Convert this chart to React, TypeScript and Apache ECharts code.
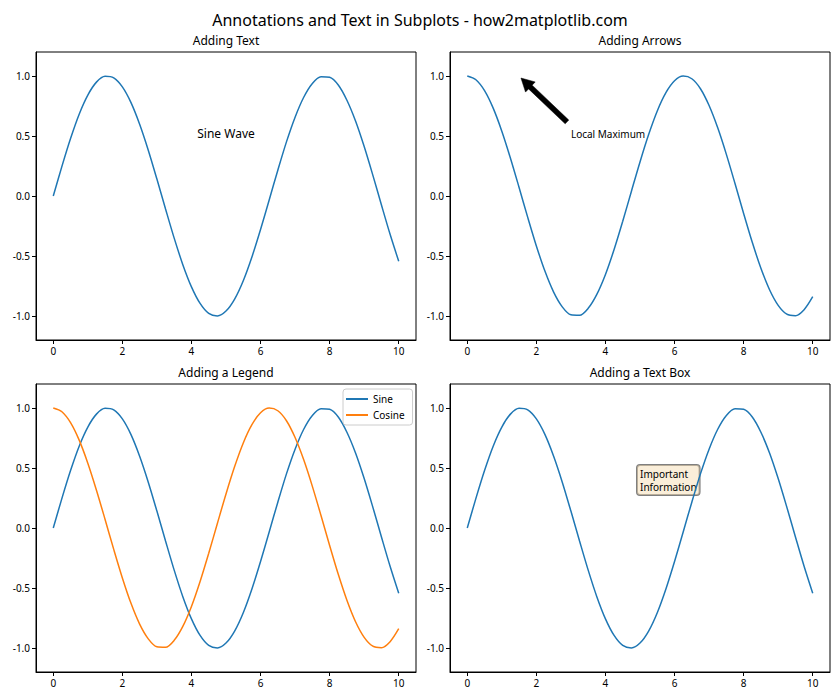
import React, { useEffect, useRef } from "react";
import * as echarts from "echarts";

const chartTitle = "Annotations and Text in Subplots - how2matplotlib.com";
const subplotTitles = ["Adding Text", "Adding Arrows", "Adding a Legend", "Adding a Text Box"];

const xValues = [
  0, 0.25, 0.5, 0.75, 1, 1.25, 1.5, 1.75, 2, 2.25, 2.5, 2.75, 3, 3.25, 3.5, 3.75, 4, 4.25, 4.5, 4.75,
  5, 5.25, 5.5, 5.75, 6, 6.25, 6.5, 6.75, 7, 7.25, 7.5, 7.75, 8, 8.25, 8.5, 8.75, 9, 9.25, 9.5, 9.75, 10,
];
const sineValues = [
  0, 0.247, 0.479, 0.682, 0.841, 0.949, 0.997, 0.984, 0.909, 0.778, 0.598, 0.382, 0.141, -0.108, -0.351,
  -0.572, -0.757, -0.895, -0.978, -0.999, -0.959, -0.859, -0.706, -0.508, -0.279, -0.033, 0.215, 0.451,
  0.657, 0.823, 0.938, 0.994, 0.989, 0.925, 0.798, 0.625, 0.412, 0.174, -0.075, -0.319, -0.544,
];
const cosineValues = [
  1, 0.969, 0.878, 0.732, 0.54, 0.315, 0.071, -0.178, -0.416, -0.628, -0.801, -0.924, -0.99, -0.994,
  -0.936, -0.82, -0.654, -0.446, -0.211, 0.038, 0.284, 0.512, 0.709, 0.861, 0.96, 0.999, 0.977, 0.894,
  0.754, 0.568, 0.347, 0.104, -0.146, -0.386, -0.602, -0.781, -0.911, -0.985, -0.997, -0.947, -0.839,
];
const xTicks = [0, 2, 4, 6, 8, 10];
const yTicks = [-1, -0.5, 0, 0.5, 1];

const textLabel = { text: "Sine Wave", at: [5, 0.5] };
const arrowLabel = { text: "Local Maximum", at: [3, 0.5] };
const arrowTail = [2.886, 0.617];
const arrowTip = [1.554, 0.983];
const boxLabel = { text: "Important\nInformation", at: [5, 0.5] };

const FONT = "'Noto Sans', sans-serif";
const BLUE = "#1f77b4";
const ORANGE = "#ff7f0e";

export default function App() {
  const ref = useRef<HTMLDivElement>(null);
  useEffect(() => {
    if (!ref.current) return;
    const chart = echarts.init(ref.current, undefined, { renderer: "svg" });
    const grids = [
      { left: 36, top: 52 },
      { left: 450, top: 52 },
      { left: 36, top: 384 },
      { left: 450, top: 384 },
    ].map((g) => ({
      ...g,
      width: 380,
      height: 288,
      show: true,
      borderColor: "#000",
      borderWidth: 1,
      backgroundColor: "transparent",
      containLabel: false,
    }));
    const xAxes = grids.map((_, i) => ({
      type: "value",
      gridIndex: i,
      min: -0.5,
      max: 10.5,
      splitLine: { show: false },
      axisLine: { show: true, onZero: false, lineStyle: { color: "#000", width: 1 } },
      axisTick: { show: true, inside: false, length: 4, customValues: xTicks, lineStyle: { color: "#000" } },
      axisLabel: {
        customValues: xTicks,
        color: "#000",
        fontSize: 10,
        fontFamily: FONT,
        margin: 6,
        formatter: (v: number) => String(v),
      },
    }));
    const yAxes = grids.map((_, i) => ({
      type: "value",
      gridIndex: i,
      min: -1.2,
      max: 1.2,
      splitLine: { show: false },
      axisLine: { show: true, onZero: false, lineStyle: { color: "#000", width: 1 } },
      axisTick: { show: true, inside: false, length: 4, customValues: yTicks, lineStyle: { color: "#000" } },
      axisLabel: {
        customValues: yTicks,
        color: "#000",
        fontSize: 10,
        fontFamily: FONT,
        margin: 6,
        formatter: (v: number) => v.toFixed(1),
      },
    }));
    const toData = (vals: number[]) => xValues.map((x, i) => [x, vals[i]]);
    const lineSeries = (name: string, idx: number, vals: number[], color: string) => ({
      name,
      type: "line",
      xAxisIndex: idx,
      yAxisIndex: idx,
      data: toData(vals),
      showSymbol: false,
      symbol: "none",
      smooth: 0.3,
      lineStyle: { color, width: 1.5 },
      itemStyle: { color },
      clip: true,
    });
    const titleCenters = [226, 640, 226, 640];
    const titleTops = [34, 34, 366, 366];
    chart.setOption({
      animation: false,
      backgroundColor: "#fff",
      textStyle: { fontFamily: FONT },
      title: [
        {
          text: chartTitle,
          left: 420,
          top: 12,
          textAlign: "center",
          padding: 0,
          textStyle: { fontSize: 16, fontWeight: "normal", color: "#000", fontFamily: FONT },
        },
        ...subplotTitles.map((t, i) => ({
          text: t,
          left: titleCenters[i],
          top: titleTops[i],
          textAlign: "center",
          padding: 0,
          textStyle: { fontSize: 12, fontWeight: "normal", color: "#000", fontFamily: FONT },
        })),
      ],
      legend: {
        data: ["Sine", "Cosine"],
        orient: "vertical",
        left: 343,
        top: 389,
        icon: "rect",
        itemWidth: 22,
        itemHeight: 2,
        itemGap: 6,
        padding: [5, 8, 5, 3],
        borderColor: "#ccc",
        borderWidth: 1,
        borderRadius: 3,
        backgroundColor: "rgba(255,255,255,0.8)",
        textStyle: { fontSize: 10, color: "#000", fontFamily: FONT },
      },
      grid: grids,
      xAxis: xAxes,
      yAxis: yAxes,
      series: [
        lineSeries("sine-text", 0, sineValues, BLUE),
        lineSeries("cosine-arrow", 1, cosineValues, BLUE),
        lineSeries("Sine", 2, sineValues, BLUE),
        lineSeries("Cosine", 2, cosineValues, ORANGE),
        lineSeries("sine-box", 3, sineValues, BLUE),
      ],
    });

    const px = (g: number, pt: number[]) => chart.convertToPixel({ gridIndex: g }, pt) as number[];
    const t = px(1, arrowTail);
    const h = px(1, arrowTip);
    const dx = h[0] - t[0];
    const dy = h[1] - t[1];
    const len = Math.sqrt(dx * dx + dy * dy);
    const ux = dx / len;
    const uy = dy / len;
    const nx = -uy;
    const ny = ux;
    const w = 2.6;
    const hw = 7;
    const hl = 13;
    const b = [h[0] - ux * hl, h[1] - uy * hl];
    const arrowPts = [
      [t[0] + nx * w, t[1] + ny * w],
      [b[0] + nx * w, b[1] + ny * w],
      [b[0] + nx * hw, b[1] + ny * hw],
      [h[0], h[1]],
      [b[0] - nx * hw, b[1] - ny * hw],
      [b[0] - nx * w, b[1] - ny * w],
      [t[0] - nx * w, t[1] - ny * w],
    ];
    const p1 = px(0, textLabel.at);
    const p2 = px(1, arrowLabel.at);
    const p3 = px(3, boxLabel.at);
    chart.setOption({
      graphic: [
        {
          type: "text",
          x: p1[0],
          y: p1[1] + 3,
          style: {
            text: textLabel.text,
            fill: "#000",
            font: `12px ${FONT}`,
            align: "center",
            verticalAlign: "bottom",
          },
        },
        {
          type: "polygon",
          shape: { points: arrowPts },
          style: { fill: "#000", stroke: "#000", lineWidth: 0.5 },
        },
        {
          type: "text",
          x: p2[0],
          y: p2[1] + 3,
          style: {
            text: arrowLabel.text,
            fill: "#000",
            font: `10px ${FONT}`,
            align: "left",
            verticalAlign: "bottom",
          },
        },
        {
          type: "text",
          x: p3[0] - 3,
          y: p3[1] - 3,
          style: {
            text: boxLabel.text,
            fill: "#000",
            font: `10px ${FONT}`,
            lineHeight: 13,
            align: "left",
            verticalAlign: "top",
            backgroundColor: "rgba(245,222,179,0.5)",
            borderColor: "rgba(0,0,0,0.5)",
            borderWidth: 1,
            borderRadius: 3,
            padding: [2, 3, 2, 3],
          },
        },
      ],
    });
    return () => chart.dispose();
  }, []);
  return <div ref={ref} style={{ position: "absolute", left: 0, top: 0, width: 840, height: 700 }} />;
}
